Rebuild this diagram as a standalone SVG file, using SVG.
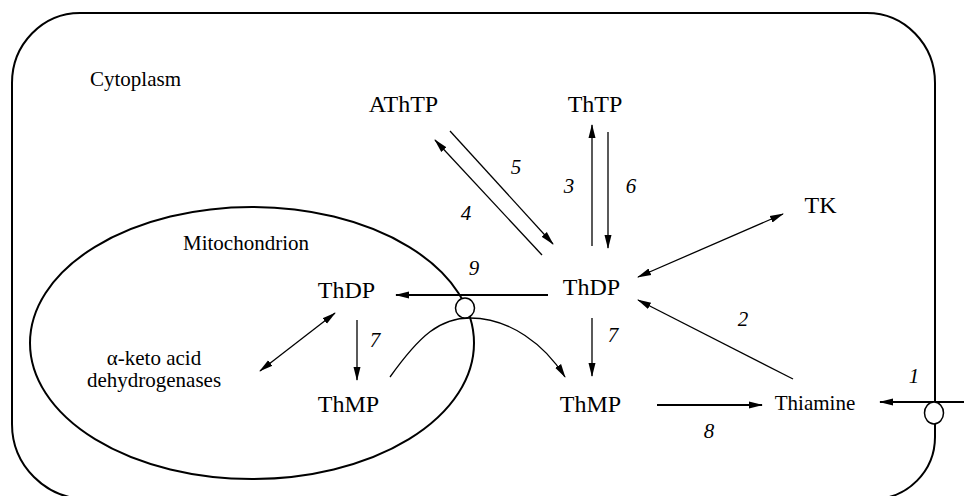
<svg xmlns="http://www.w3.org/2000/svg" width="964" height="496" viewBox="0 0 964 496">
<style>
.lbl{font-family:"Liberation Serif","Times New Roman",serif;font-size:24px;fill:#000;text-anchor:middle}
.sm{font-family:"Liberation Serif","Times New Roman",serif;font-size:21px;fill:#000}
.num{font-family:"Liberation Serif","Times New Roman",serif;font-size:21px;font-style:italic;fill:#000;text-anchor:middle}
.mem{fill:none;stroke:#000;stroke-width:2}
.ln{fill:none;stroke:#000;stroke-width:1.3}
.th{fill:none;stroke:#000;stroke-width:1.8}
.tr{fill:#fff;stroke:#000;stroke-width:1.5}
</style>
<defs>
<marker id="ah" markerUnits="userSpaceOnUse" markerWidth="14" markerHeight="10" refX="13" refY="5" orient="auto-start-reverse" viewBox="0 0 14 10">
<path d="M0,1.5 L14,5 L0,8.5 Z" fill="#000"/>
</marker>
</defs>
<g id="cell">
<path class="mem" d="M80,13 H867 A68,70 0 0 1 935,83 V437 A62,62 0 0 1 873,499 H87 A75,75 0 0 1 12,424 V83 A68,70 0 0 1 80,13 Z"/>
<text class="sm" x="90" y="86">Cytoplasm</text>
</g>
<g id="mitochondrion">
<ellipse class="mem" cx="252" cy="343" rx="222" ry="136"/>
<text class="sm" x="183" y="250">Mitochondrion</text>
</g>
<g id="connectors">
<line class="ln" x1="542" y1="255" x2="435" y2="140" marker-end="url(#ah)"/>
<line class="ln" x1="450" y1="131" x2="553" y2="244" marker-end="url(#ah)"/>
<line class="ln" x1="592" y1="246" x2="592" y2="125" marker-end="url(#ah)"/>
<line class="ln" x1="608" y1="132" x2="608" y2="248" marker-end="url(#ah)"/>
<line class="ln" x1="638" y1="277" x2="783" y2="214" marker-start="url(#ah)" marker-end="url(#ah)"/>
<line class="ln" x1="793" y1="379" x2="638" y2="300" marker-end="url(#ah)"/>
<line class="ln" x1="592" y1="318" x2="592" y2="376" marker-end="url(#ah)"/>
<line class="th" x1="548" y1="295" x2="396" y2="295" marker-end="url(#ah)"/>
<line class="ln" x1="357" y1="320" x2="357" y2="380" marker-end="url(#ah)"/>
<line class="ln" x1="260" y1="371" x2="335" y2="313" marker-start="url(#ah)" marker-end="url(#ah)"/>
<line class="th" x1="657" y1="405" x2="762" y2="405" marker-end="url(#ah)"/>
<line class="th" x1="964" y1="402" x2="880" y2="402" marker-end="url(#ah)"/>
<path class="ln" d="M390,377 C420,335 440,318 470,318 C510,318 545,345 565,377" marker-end="url(#ah)"/>
</g>
<g id="transporter-mito"><ellipse class="tr" cx="465" cy="308" rx="9.5" ry="10"/></g>
<g id="transporter-cell"><ellipse class="tr" cx="934" cy="413" rx="9.5" ry="11"/></g>
<g id="athtp"><text class="lbl" x="403.5" y="112">AThTP</text></g>
<g id="thtp"><text class="lbl" x="595" y="112">ThTP</text></g>
<g id="tk"><text class="lbl" x="820.5" y="213">TK</text></g>
<g id="thdp-cyto"><text class="lbl" x="591.5" y="295">ThDP</text></g>
<g id="thdp-mito"><text class="lbl" x="346.5" y="298">ThDP</text></g>
<g id="thmp-mito"><text class="lbl" x="348.5" y="412">ThMP</text></g>
<g id="thmp-cyto"><text class="lbl" x="590.5" y="412">ThMP</text></g>
<g id="thiamine"><text class="sm" x="815" y="410" text-anchor="middle">Thiamine</text></g>
<g id="keto"><text class="sm" text-anchor="middle"><tspan x="154" y="365">α-keto acid</tspan><tspan x="154" y="387">dehydrogenases</tspan></text></g>
<g id="numbers">
<text class="num" x="516" y="174">5</text>
<text class="num" x="569" y="193">3</text>
<text class="num" x="631" y="193">6</text>
<text class="num" x="466" y="220">4</text>
<text class="num" x="474" y="275">9</text>
<text class="num" x="375" y="347">7</text>
<text class="num" x="613" y="342">7</text>
<text class="num" x="743" y="326">2</text>
<text class="num" x="709" y="438">8</text>
<text class="num" x="914" y="383">1</text>
</g>
</svg>
